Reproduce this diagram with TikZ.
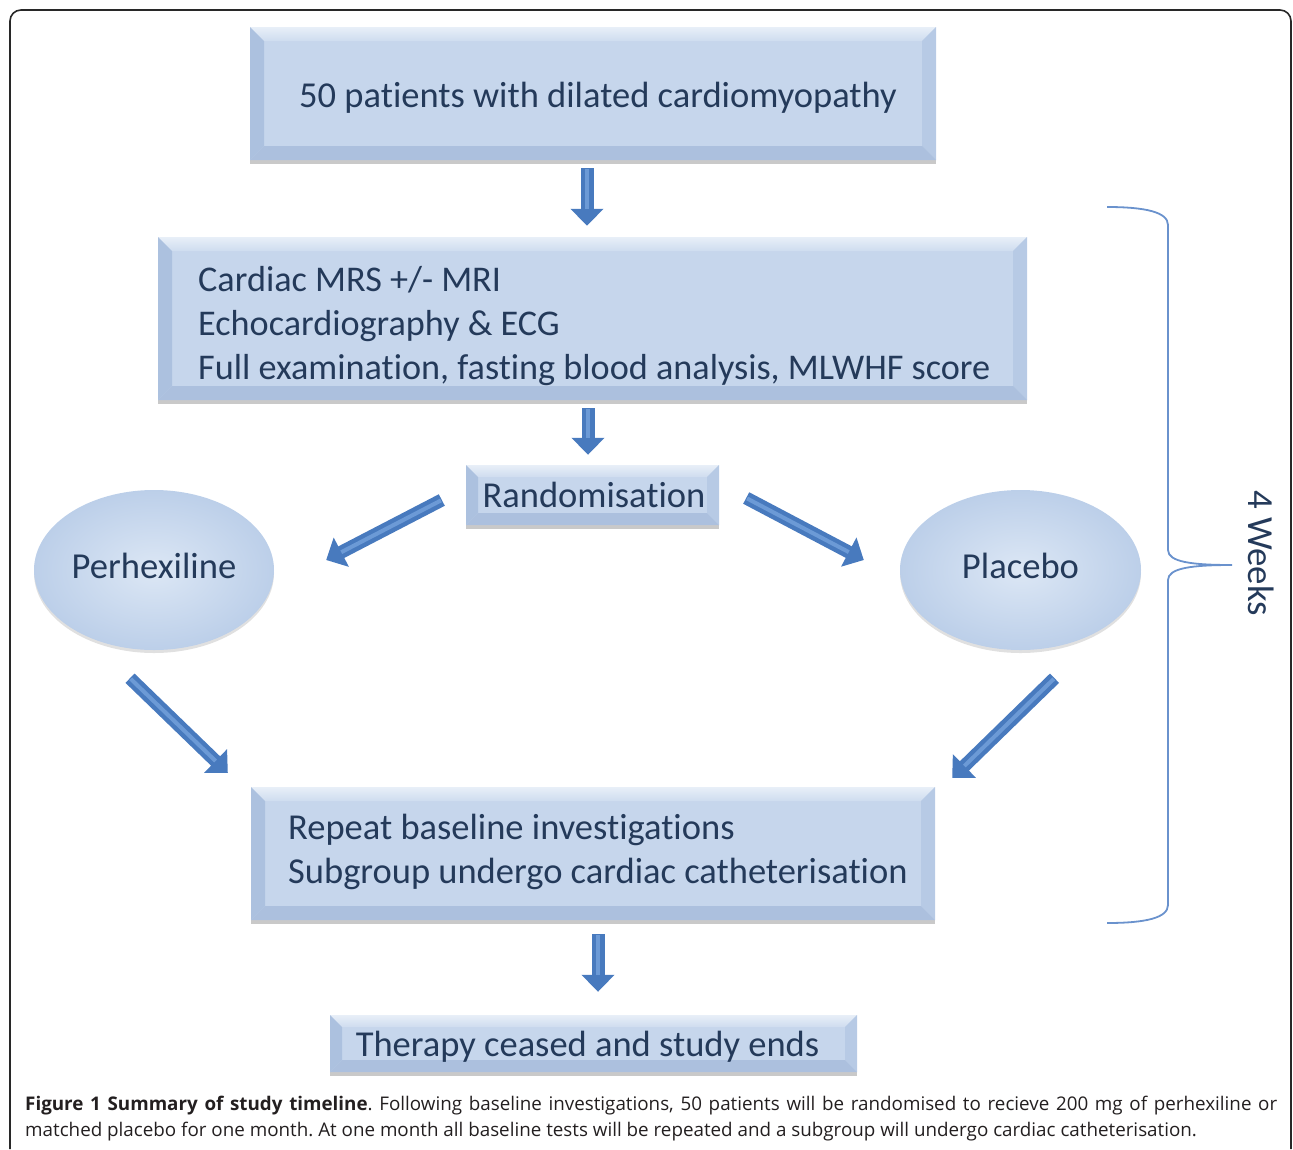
\documentclass[tikz,border=0pt]{standalone}
\usepackage{fontspec}
\setmainfont{Carlito}[Ligatures=NoCommon]
\newfontfamily\capfont{Open Sans}
\usetikzlibrary{arrows.meta,shapes.geometric,shadows,calc}

\definecolor{boxfill}{RGB}{198,214,236}
\definecolor{bvlight}{RGB}{232,239,248}
\definecolor{bvleft}{RGB}{172,193,223}
\definecolor{bvright}{RGB}{183,202,229}
\definecolor{bvbottom}{RGB}{172,192,222}
\definecolor{txtblue}{RGB}{36,58,90}
\definecolor{arrowblue}{RGB}{72,122,190}
\definecolor{arrowlight}{RGB}{108,154,214}
\definecolor{ovalin}{RGB}{220,231,245}
\definecolor{ovalout}{RGB}{188,207,233}
\definecolor{bracecol}{RGB}{106,146,205}
\definecolor{capcol}{RGB}{35,31,32}
\definecolor{framecol}{RGB}{40,40,40}

\newcommand{\bv}{14}

\tikzset{
  bv/.code={\renewcommand{\bv}{#1}},
  bevelbox/.style={rectangle, fill=boxfill, inner sep=0pt, text=txtblue,
    font=\fontsize{36.5}{44}\selectfont, text depth=0pt,
    drop shadow={shadow xshift=0pt, shadow yshift=-4pt, opacity=0.3, fill=black!70},
    path picture={
      \coordinate (pnw) at (path picture bounding box.north west);
      \coordinate (pne) at (path picture bounding box.north east);
      \coordinate (psw) at (path picture bounding box.south west);
      \coordinate (pse) at (path picture bounding box.south east);
      \shade[top color=bvlight, bottom color=boxfill!85!white]
        (pnw) -- (pne) -- ($(pne)+(-\bv pt,-\bv pt)$) -- ($(pnw)+(\bv pt,-\bv pt)$) -- cycle;
      \fill[bvleft]
        (pnw) -- ($(pnw)+(\bv pt,-\bv pt)$) -- ($(psw)+(\bv pt,\bv pt)$) -- (psw) -- cycle;
      \fill[bvright]
        (pne) -- ($(pne)+(-\bv pt,-\bv pt)$) -- ($(pse)+(-\bv pt,\bv pt)$) -- (pse) -- cycle;
      \fill[bvbottom]
        (psw) -- ($(psw)+(\bv pt,\bv pt)$) -- ($(pse)+(-\bv pt,\bv pt)$) -- (pse) -- cycle;
    }},
  boxtext/.style={anchor=west, inner sep=0pt, align=left, text=txtblue,
    font=\fontsize{36.5}{44}\selectfont},
  oval/.style={ellipse, inner sep=0pt, text=txtblue, font=\fontsize{36.6}{44}\selectfont,
    shading=radial, inner color=ovalin, outer color=ovalout,
    drop shadow={shadow xshift=0pt, shadow yshift=-3pt, opacity=0.2, fill=black!60}},
  barrow/.style={draw=arrowblue, line width=13pt,
    -{Triangle[width=32pt,length=17pt]},
    postaction={draw=arrowlight, line width=4pt, -, shorten >=17pt, shorten <=1pt}},
  brace/.style={draw=bracecol, line width=1.8pt},
  captext/.style={anchor=west, inner sep=0pt, text=capcol,
    font=\capfont\fontsize{18.8}{22}\selectfont\frenchspacing},
}

\begin{document}
\begin{tikzpicture}[x=1pt,y=-1pt]
\useasboundingbox (0,0) rectangle (1293,1149);

% outer frame
\draw[framecol, line width=1.6pt, rounded corners=11pt]
  (10,1149) -- (10,10) -- (1291,10) -- (1291,1149);

% boxes
\node[bevelbox, bv=14, minimum width=686pt, minimum height=133pt] (b1) at (593,93.5)
  {\hspace*{10pt}\raisebox{-3pt}{50 patients with dilated cardiomyopathy}};
\node[bevelbox, bv=14, minimum width=869pt, minimum height=163pt] (b2) at (592.5,318.5) {};
\node[boxtext, font=\fontsize{36.2}{44}\selectfont] (b2t) at (198,326)
  {Cardiac MRS +/- MRI\\Echocardiography \& ECG\\Full examination, fasting blood analysis, MLWHF score};
\node[bevelbox, bv=12, minimum width=253pt, minimum height=60pt] (rand) at (592.5,495)
  {\hspace*{3pt}Randomisation};
\node[oval, minimum width=240pt, minimum height=160pt] (perh) at (154,570)
  {\raisebox{8pt}{Perhexiline}};
\node[oval, minimum width=241pt, minimum height=160pt] (plac) at (1020.5,570)
  {\raisebox{8pt}{Placebo}};
\node[bevelbox, bv=14, minimum width=684pt, minimum height=133pt] (rep) at (593,853.5) {};
\node[boxtext] (rept) at (288,852)
  {Repeat baseline investigations\\Subgroup undergo cardiac catheterisation};
\node[bevelbox, bv=12, minimum width=527pt, minimum height=57pt] (ther) at (593.5,1043.5)
  {\hspace*{-12pt}Therapy ceased and study ends};

% block arrows
\draw[barrow] ($(b1.south)+(-6,8)$) -- ($(b2.north)+(-5.5,-11)$);
\draw[barrow] ($(b2.south)+(-4.5,8)$) -- ($(rand.north)+(-4.5,-10)$);
\draw[barrow] ($(rand.west)+(-24,5)$) -- ($(perh.east)+(52,-10)$);
\draw[barrow] ($(rand.east)+(27,3)$) -- ($(plac.west)+(-36,-10)$);
\draw[barrow] ($(perh.south)+(-24,28)$) -- ($(rep.north west)+(-23,-14)$);
\draw[barrow] ($(plac.south)+(34,28)$) -- ($(rep.north east)+(17,-9)$);
\draw[barrow] ($(rep.south)+(5,14)$) -- ($(ther.north)+(4.5,-23)$);

% brace
\draw[brace] (1107,207) .. controls (1145,207) and (1168,212) .. (1168,225)
  -- (1168,550) .. controls (1168,562) and (1192,565) .. (1232,565)
  .. controls (1192,565) and (1168,568) .. (1168,580)
  -- (1168,905) .. controls (1168,918) and (1145,923) .. (1107,923);
\node[rotate=-90, text=txtblue, font=\fontsize{36.8}{44}\selectfont] (weeks) at (1261,553) {4 Weeks};

% caption
\node[captext] (cap1) at (25,1106)
  {\makebox[1252pt][s]{\textbf{Figure 1 Summary of study timeline}. Following baseline investigations, 50 patients will be randomised to recieve 200 mg of perhexiline or}};
\node[captext] (cap2) at (25,1132)
  {matched placebo for one month. At one month all baseline tests will be repeated and a subgroup will undergo cardiac catheterisation.};
\end{tikzpicture}
\end{document}
